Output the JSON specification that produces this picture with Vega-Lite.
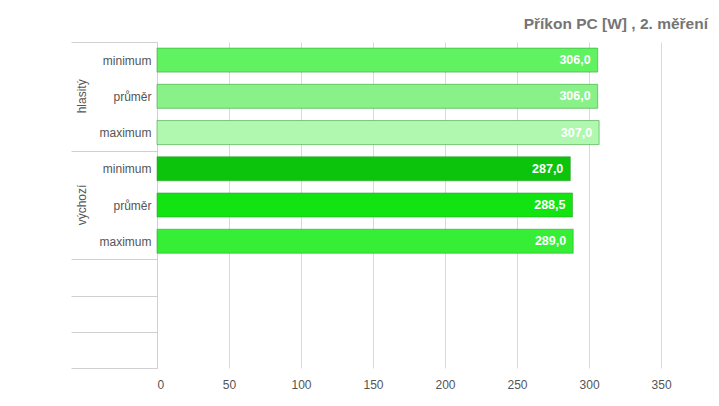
{
  "$schema": "https://vega.github.io/schema/vega-lite/v6.json",
  "width": 551,
  "height": 326,
  "padding": {"left": 70, "top": 16, "right": 5, "bottom": 5},
  "title": {
    "text": "Příkon PC [W] , 2. měření",
    "anchor": "end",
    "frame": "group",
    "fontSize": 15.5,
    "fontWeight": "bold",
    "color": "#757575",
    "font": "Liberation Sans",
    "offset": 4
  },
  "config": {
    "locale": {"number": {"decimal": ",", "thousands": " ", "grouping": [3], "currency": ["", " Kč"]}},
    "view": {"stroke": null},
    "font": "Liberation Sans"
  },
  "data": {
    "values": [
      {"row": "h-min", "value": 306.0},
      {"row": "h-prum", "value": 306.0},
      {"row": "h-max", "value": 307.0},
      {"row": "v-min", "value": 287.0},
      {"row": "v-prum", "value": 288.5},
      {"row": "v-max", "value": 289.0}
    ]
  },
  "encoding": {
    "y": {
      "field": "row",
      "type": "nominal",
      "scale": {
        "domain": ["h-min", "h-prum", "h-max", "v-min", "v-prum", "v-max", "e1", "e2", "e3"],
        "paddingInner": 0,
        "paddingOuter": 0
      }
    },
    "x": {
      "field": "value",
      "type": "quantitative",
      "scale": {"domain": [0, 382.6], "nice": false},
      "axis": {
        "title": null,
        "values": [0, 50, 100, 150, 200, 250, 300, 350],
        "grid": true,
        "gridColor": "#d9d9d9",
        "domain": false,
        "ticks": false,
        "labelPadding": 11,
        "labelFontSize": 12,
        "labelColor": "#555555",
        "labelFont": "Liberation Sans"
      }
    }
  },
  "layer": [
    {
      "mark": {"type": "bar", "height": {"band": 0.663}, "stroke": "#2e9e2e", "strokeOpacity": 0.55, "strokeWidth": 1},
      "encoding": {
        "y": {
          "field": "row",
          "type": "nominal",
          "axis": {
            "title": null,
            "orient": "left",
            "tickBand": "extent",
            "tickSize": 86,
            "tickColor": {
              "condition": {
                "test": "datum.value == 'h-min' || datum.value == 'h-prum' || datum.value == 'v-min' || datum.value == 'v-prum'",
                "value": "transparent"
              },
              "value": "#d0d0d0"
            },
            "domainColor": "#d0d0d0",
            "labelPadding": -80,
            "labelFontSize": 12,
            "labelColor": "#555555",
            "labelFont": "Liberation Sans",
            "labelExpr": "!datum.value ? '' : indexof(datum.value, 'min') >= 0 ? 'minimum' : indexof(datum.value, 'prum') >= 0 ? 'průměr' : indexof(datum.value, 'max') >= 0 ? 'maximum' : ''"
          }
        },
        "color": {
          "field": "row",
          "type": "nominal",
          "legend": null,
          "scale": {
            "domain": ["h-min", "h-prum", "h-max", "v-min", "v-prum", "v-max"],
            "range": ["#60f260", "#88f288", "#b0f8b0", "#0cc40c", "#12e412", "#36ee36"]
          }
        }
      }
    },
    {
      "mark": {"type": "text", "align": "right", "dx": -7, "color": "white", "fontWeight": "bold", "fontSize": 12.5, "font": "Liberation Sans"},
      "encoding": {
        "y": {
          "field": "row",
          "type": "nominal",
          "axis": {
            "title": null,
            "orient": "left",
            "ticks": false,
            "domain": false,
            "grid": false,
            "labelAngle": -90,
            "labelAlign": "center",
            "labelBaseline": "bottom",
            "labelPadding": 69,
            "labelFontSize": 12,
            "labelColor": "#555555",
            "labelFont": "Liberation Sans",
            "labelExpr": "datum.value == 'h-prum' ? 'hlasitý' : datum.value == 'v-prum' ? 'výchozí' : ''"
          }
        },
        "text": {"field": "value", "type": "quantitative", "format": ".1f"}
      }
    }
  ],
  "resolve": {"axis": {"y": "independent"}}
}
